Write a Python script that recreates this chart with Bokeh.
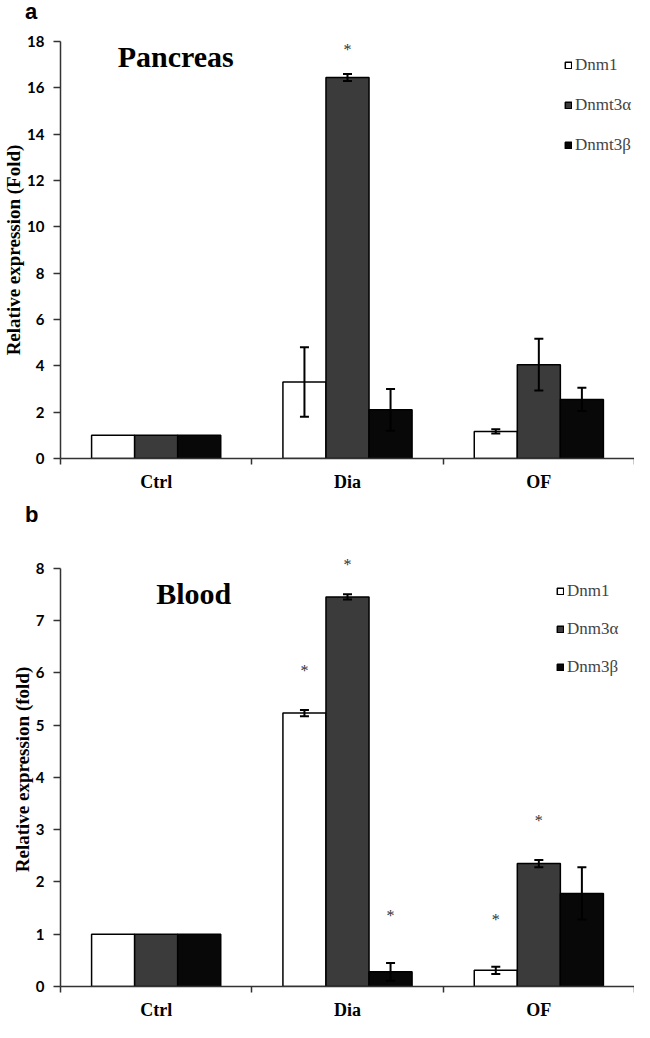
from bokeh.plotting import figure
from bokeh.models import (ColumnDataSource, Range1d, FixedTicker, Whisker, TeeHead,
                          Label, Legend, LegendItem, Div)
from bokeh.layouts import column
from bokeh.embed import file_html
from bokeh.resources import INLINE
from bokeh.core.properties import value

# ---------------- data ----------------
groups = ["Ctrl", "Dia", "OF"]

pancreas_series = ["Dnm1", "Dnmt3α", "Dnmt3β"]
pancreas_dnm1 = [1.0, 3.30, 1.17]
pancreas_dnmt3a = [1.0, 16.45, 4.05]
pancreas_dnmt3b = [1.0, 2.10, 2.55]
pancreas_dnm1_err = [0.0, 1.50, 0.09]
pancreas_dnmt3a_err = [0.0, 0.15, 1.12]
pancreas_dnmt3b_err = [0.0, 0.90, 0.50]
# significance marks: (group index, series index, y)
pancreas_stars = [(1, 1, 17.65)]

blood_series = ["Dnm1", "Dnm3α", "Dnm3β"]
blood_dnm1 = [1.0, 5.23, 0.31]
blood_dnm3a = [1.0, 7.45, 2.35]
blood_dnm3b = [1.0, 0.28, 1.78]
blood_dnm1_err = [0.0, 0.06, 0.07]
blood_dnm3a_err = [0.0, 0.05, 0.07]
blood_dnm3b_err = [0.0, 0.17, 0.50]
blood_stars = [(1, 0, 6.05), (1, 1, 8.08), (1, 2, 1.36), (2, 0, 1.29), (2, 1, 3.17)]

# ---------------- style ----------------
SERIF = "Liberation Serif"
TICKF = "Lato"
COLORS = ["white", "#3b3b3b", "#080808"]
OFFSETS = [-0.225, 0.0, 0.225]
BAR_W = 0.225
AXC = "#333333"


def panel(names, vals, errs, stars, ymax, yend, ystep, ylabel, title, title_xy,
          height, top, bottom, legend_loc, legend_spacing, xlab_standoff):
    p = figure(width=634, height=height, x_range=Range1d(0, 3), y_range=Range1d(0, yend),
               output_backend="svg", toolbar_location=None,
               min_border_left=52, min_border_right=0,
               min_border_top=top, min_border_bottom=bottom)
    p.outline_line_color = None
    p.xgrid.visible = False
    p.ygrid.visible = False
    p.background_fill_color = "white"
    p.border_fill_color = "white"

    items = []
    for k, (name, v, e) in enumerate(zip(names, vals, errs)):
        xs = [i + 0.5 + OFFSETS[k] for i in range(len(groups))]
        src = ColumnDataSource(dict(x=xs, top=v))
        r = p.vbar(x="x", top="top", width=BAR_W, source=src, fill_color=COLORS[k],
                   line_color="black", line_width=1.5)
        items.append(LegendItem(label=name, renderers=[r]))
        ex = [x for x, ee in zip(xs, e) if ee > 0]
        eu = [vv + ee for vv, ee in zip(v, e) if ee > 0]
        el = [vv - ee for vv, ee in zip(v, e) if ee > 0]
        esrc = ColumnDataSource(dict(x=ex, upper=eu, lower=el))
        w = Whisker(source=esrc, base="x", upper="upper", lower="lower",
                    line_width=2, line_color="black", level="overlay",
                    upper_head=TeeHead(size=9, line_width=2, line_color="black"),
                    lower_head=TeeHead(size=9, line_width=2, line_color="black"))
        p.add_layout(w)

    sx = [g + 0.5 + OFFSETS[s] for g, s, _ in stars]
    sy = [y for _, _, y in stars]
    p.text(x=sx, y=sy, text=["*"] * len(sx), text_font=value(SERIF), text_font_size="16px",
           text_align="center", text_baseline="middle", text_color="#333333")

    legend = Legend(items=items, location=legend_loc, glyph_width=8, glyph_height=8,
                    label_text_font=SERIF, label_text_font_size="17px", label_standoff=3,
                    label_height=24, spacing=legend_spacing, padding=0, margin=0,
                    border_line_color=None, background_fill_alpha=0)
    p.add_layout(legend)

    # axes
    p.xaxis.ticker = FixedTicker(ticks=[0.5, 1.5, 2.5], minor_ticks=[0, 1, 2, 3])
    p.xaxis.major_label_overrides = {0.5: groups[0], 1.5: groups[1], 2.5: groups[2]}
    p.xaxis.major_tick_out = 0
    p.xaxis.major_tick_in = 0
    p.xaxis.minor_tick_out = 6
    p.xaxis.minor_tick_in = 0
    p.xaxis.major_label_standoff = xlab_standoff
    p.xaxis.major_label_text_font = SERIF
    p.xaxis.major_label_text_font_style = "bold"
    p.xaxis.major_label_text_font_size = "18px"
    p.xaxis.major_label_text_color = "black"

    p.yaxis.ticker = FixedTicker(ticks=list(range(0, int(ymax) + 1, ystep)))
    p.yaxis.bounds = (0, ymax)
    p.yaxis.minor_tick_line_color = None
    p.yaxis.major_tick_out = 7
    p.yaxis.major_tick_in = 0
    p.yaxis.major_label_standoff = 9
    p.yaxis.major_label_text_font = TICKF
    p.yaxis.major_label_text_font_style = "bold"
    p.yaxis.major_label_text_font_size = "15px"
    p.yaxis.major_label_text_color = "black"
    p.yaxis.axis_label = ylabel
    p.yaxis.axis_label_text_font = SERIF
    p.yaxis.axis_label_text_font_style = "bold"
    p.yaxis.axis_label_text_font_size = "19px"
    p.yaxis.axis_label_text_color = "black"
    p.yaxis.axis_label_standoff = 0

    for ax in (p.xaxis, p.yaxis):
        ax.axis_line_color = AXC
        ax.axis_line_width = 1.5
        ax.major_tick_line_color = AXC
        ax.major_tick_line_width = 1.5
    p.xaxis.minor_tick_line_color = AXC
    p.xaxis.minor_tick_line_width = 1.5

    p.add_layout(Label(x=title_xy[0], y=title_xy[1], text=title, text_font=SERIF,
                       text_font_style="bold", text_font_size="30px",
                       text_align="left", text_baseline="middle", text_color="black"))
    return p


def letter_div(letter, height, line_height):
    return Div(text=letter, width=60, height=height, margin=0,
               styles={"font-family": "'Liberation Sans', Arial, sans-serif",
                       "font-weight": "bold", "font-size": "22px",
                       "line-height": line_height, "padding-left": "25px",
                       "color": "black"})


p1 = panel(pancreas_series,
           [pancreas_dnm1, pancreas_dnmt3a, pancreas_dnmt3b],
           [pancreas_dnm1_err, pancreas_dnmt3a_err, pancreas_dnmt3b_err],
           pancreas_stars, 18, 18, 2, "Relative expression (Fold)",
           "Pancreas", (0.299, 17.35),
           height=477, top=21, bottom=39, legend_loc=(504, 301), legend_spacing=16,
           xlab_standoff=7)

p2 = panel(blood_series,
           [blood_dnm1, blood_dnm3a, blood_dnm3b],
           [blood_dnm1_err, blood_dnm3a_err, blood_dnm3b_err],
           blood_stars, 8, 8.3, 1, "Relative expression (fold)",
           "Blood", (0.5, 7.51),
           height=495, top=25, bottom=30, legend_loc=(496, 307), legend_spacing=14,
           xlab_standoff=7)

layout = column(letter_div("a", 20, "24px"), p1, letter_div("b", 30, "36px"), p2)
open("out.html", "w").write(file_html(layout, INLINE))
